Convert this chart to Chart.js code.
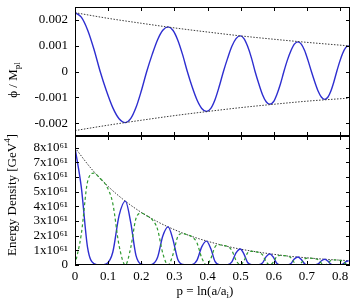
<!DOCTYPE html>
<html><head><meta charset="utf-8">
<script src="https://cdn.jsdelivr.net/npm/chart.js@4.4.0/dist/chart.umd.min.js"></script>
<style>
html,body{margin:0;padding:0;background:#fff;width:351px;height:299px;overflow:hidden}
canvas{position:absolute;left:0}
#c1{top:0;width:351px;height:140px}
#c2{top:130px;width:351px;height:169px}
</style></head><body>
<canvas id="c1" width="351" height="140"></canvas>
<canvas id="c2" width="351" height="169"></canvas>
<script>
// ---------- data ----------
const xTicks = [0,0.1,0.2,0.3,0.4,0.5,0.6,0.7,0.8];
const xTickLabels = ['0','0.1','0.2','0.3','0.4','0.5','0.6','0.7','0.8'];
const phiTicks = [-0.002,-0.001,0,0.001,0.002];
const phiTickLabels = ['-0.002','-0.001','0','0.001','0.002'];
const rhoTicks = [0,1,2,3,4,5,6,7,8];            // in units of 10^61 GeV^4
const rhoTickLabels = ['0','1x10⁶¹','2x10⁶¹','3x10⁶¹','4x10⁶¹','5x10⁶¹','6x10⁶¹','7x10⁶¹','8x10⁶¹'];

// field oscillation phi(p)
const phiP = [0,0.019,0.038,0.057,0.076,0.095,0.114,0.133,0.152,
 0.168,0.184,0.200,0.2165,0.233,0.249,0.265,0.281,
 0.2955,0.310,0.3245,0.339,0.3535,0.368,0.3825,0.397,
 0.410,0.4225,0.435,0.448,0.461,0.4735,0.486,0.499,
 0.510,0.521,0.5325,0.5435,0.555,0.566,0.577,0.588,
 0.599,0.609,0.620,0.6305,0.641,0.652,0.662,0.673,
 0.683,0.693,0.703,0.7135,0.724,0.734,0.744,0.754,
 0.763,0.772,0.781,0.790,0.799,0.808,0.817,0.826];
const phiV = [0.00228,0.002107,0.001612,0.000873,0,-0.000758,-0.001400,-0.001830,-0.00198,
 -0.001830,-0.001400,-0.000758,0,0.000663,0.001223,0.001599,0.00173,
 0.001599,0.001223,0.000663,0,-0.000594,-0.001096,-0.001432,-0.00155,
 -0.001432,-0.001096,-0.000594,0,0.000529,0.000976,0.001275,0.00138,
 0.001275,0.000976,0.000529,0,-0.000486,-0.000898,-0.001173,-0.00127,
 -0.001173,-0.000898,-0.000486,0,0.000440,0.000813,0.001063,0.00115,
 0.001063,0.000813,0.000440,0,-0.000414,-0.000764,-0.000998,-0.00108,
 -0.000998,-0.000764,-0.000414,0,0.000383,0.000707,0.000924,0.00100];

// amplitude envelope of phi
const envP  = [0,0.1,0.2,0.3,0.4,0.5,0.6,0.7,0.83];
const envHi = [0.00228,0.00206,0.00187,0.00169,0.00153,0.00138,0.00125,0.00113,0.00099];
const envLo = [-0.00229,-0.00208,-0.00189,-0.00171,-0.00155,-0.00140,-0.00127,-0.00115,-0.00103];

// energy densities (units of 10^61 GeV^4), sampled at phiP
const potV = [8,5.31,1.18,0.096,0,0.082,0.87,3.37,4.36,
 2.93,0.66,0.054,0,0.047,0.51,1.98,2.60,
 1.75,0.40,0.033,0,0.029,0.32,1.24,1.63,
 1.11,0.25,0.021,0,0.019,0.21,0.82,1.09,
 0.745,0.171,0.014,0,0.013,0.143,0.569,0.762,
 0.522,0.120,0.010,0,0.009,0.101,0.405,0.542,
 0.373,0.086,0.007,0,0.007,0.073,0.292,0.392,
 0.271,0.063,0.005,0,0.005,0.054,0.218,0.294];
const kinV = [0,2.10,5.69,6.27,5.90,5.39,4.20,1.33,0,
 1.16,3.17,3.54,3.36,3.10,2.45,0.79,0,
 0.70,1.92,2.15,2.06,1.92,1.52,0.49,0,
 0.44,1.23,1.38,1.33,1.25,0.99,0.32,0,
 0.295,0.824,0.936,0.910,0.856,0.688,0.226,0,
 0.207,0.580,0.660,0.642,0.607,0.489,0.161,0,
 0.148,0.414,0.474,0.461,0.435,0.352,0.116,0,
 0.107,0.302,0.347,0.339,0.322,0.262,0.087,0];
// total energy density envelope
const rhoP = [0,0.05,0.1,0.15,0.2,0.25,0.3,0.35,0.4,0.45,0.5,0.55,0.6,0.65,0.7,0.75,0.8,0.83];
const rhoV = [8,6.55,5.36,4.39,3.59,2.94,2.41,1.97,1.62,1.32,1.08,0.89,0.73,0.59,0.49,0.40,0.33,0.29];

// ---------- helpers ----------
const FONT = "'Liberation Serif','DejaVu Serif','Times New Roman',serif";
const zip = (xs, ys) => xs.map((x, i) => ({x, y: ys[i]}));
const BLUE = '#2e2ed0', GREEN = '#2f9a2f', ENV = '#3a3a3a';

function drawRich(ctx, parts, x, y, rotate) {
  ctx.save();
  ctx.translate(x, y);
  if (rotate) ctx.rotate(-Math.PI / 2);
  ctx.fillStyle = '#000';
  ctx.textBaseline = 'middle';
  ctx.textAlign = 'left';
  let total = 0;
  parts.forEach(p => { ctx.font = (p.s ? 9 : 13) + 'px ' + FONT; p.w = ctx.measureText(p.t).width; total += p.w; });
  let cx = -total / 2;
  parts.forEach(p => {
    ctx.font = (p.s ? 9 : 13) + 'px ' + FONT;
    const dy = p.s === 'sub' ? 4 : (p.s === 'sup' ? -5 : 0);
    ctx.fillText(p.t, cx, dy);
    cx += p.w;
  });
  ctx.restore();
}

function framePlugin(xT, yT, titles) {
  return {
    id: 'frame',
    afterDatasetsDraw(chart) {
      const {ctx, chartArea: a, scales: {x, y}} = chart;
      ctx.save();
      ctx.strokeStyle = '#000';
      ctx.lineWidth = 1;
      const L = Math.round(a.left), R = Math.round(a.right), T = Math.round(a.top), B = Math.round(a.bottom);
      ctx.strokeRect(L + 0.5, T + 0.5, R - L - 1, B - T - 1);
      ctx.beginPath();
      const tl = 4;
      xT.forEach(v => {
        const px = Math.round(x.getPixelForValue(v)) + 0.5;
        ctx.moveTo(px, B); ctx.lineTo(px, B - tl);
        ctx.moveTo(px, T); ctx.lineTo(px, T + tl);
      });
      yT.forEach(v => {
        const py = Math.round(y.getPixelForValue(v)) + 0.5;
        ctx.moveTo(L, py); ctx.lineTo(L + tl, py);
        ctx.moveTo(R, py); ctx.lineTo(R - tl, py);
      });
      ctx.stroke();
      ctx.restore();
      titles.forEach(t => drawRich(ctx, t.parts, t.x, t.y, t.rot));
    }
  };
}

function setTicks(vals) {
  return s => { s.ticks = vals.map(v => ({value: v})); };
}
function fixY(s) { s.width = 75; s.paddingTop = 0; s.paddingBottom = 0; }
function fixX(s) { s.height = 34; s.paddingLeft = 0; s.paddingRight = 0; }

const tickFont = {family: FONT, size: 13};

// ---------- top chart: phi ----------
new Chart(document.getElementById('c1'), {
  type: 'line',
  data: {datasets: [
    {data: zip(envP, envHi), borderColor: ENV, borderWidth: 1, borderDash: [1.5, 1.5], pointRadius: 0, cubicInterpolationMode: 'monotone'},
    {data: zip(envP, envLo), borderColor: ENV, borderWidth: 1, borderDash: [1.5, 1.5], pointRadius: 0, cubicInterpolationMode: 'monotone'},
    {data: zip(phiP, phiV), borderColor: BLUE, borderWidth: 1.4, pointRadius: 0, cubicInterpolationMode: 'monotone'}
  ]},
  options: {
    responsive: false, animation: false, devicePixelRatio: 1,
    layout: {padding: {top: 7, right: 1, bottom: 4, left: 0}},
    plugins: {legend: {display: false}, tooltip: {enabled: false}},
    scales: {
      x: {type: 'linear', min: 0, max: 0.83, display: false},
      y: {type: 'linear', min: -0.0025, max: 0.0025,
          afterBuildTicks: setTicks(phiTicks),
          afterFit: fixY,
          grid: {display: false, drawTicks: false}, border: {display: false},
          ticks: {font: tickFont, color: '#000', padding: 7, autoSkip: false,
                  callback: (v, i) => phiTickLabels[i]}}
    }
  },
  plugins: [framePlugin(xTicks, phiTicks, [
    {parts: [{t: 'ϕ / M'}, {t: 'pl', s: 'sub'}], x: 14, y: 80, rot: true}
  ])]
});

// ---------- bottom chart: energy density ----------
new Chart(document.getElementById('c2'), {
  type: 'line',
  data: {datasets: [
    {data: zip(phiP, kinV), borderColor: GREEN, borderWidth: 1.2, borderDash: [3, 2.5], pointRadius: 0, cubicInterpolationMode: 'monotone'},
    {data: zip(phiP, potV), borderColor: BLUE, borderWidth: 1.4, pointRadius: 0, cubicInterpolationMode: 'monotone'},
    {data: zip(rhoP, rhoV), borderColor: ENV, borderWidth: 1, borderDash: [1.5, 1.5], pointRadius: 0, cubicInterpolationMode: 'monotone'}
  ]},
  options: {
    responsive: false, animation: false, devicePixelRatio: 1,
    layout: {padding: {top: 6, right: 1, bottom: 0, left: 0}},
    plugins: {legend: {display: false}, tooltip: {enabled: false}},
    scales: {
      x: {type: 'linear', min: 0, max: 0.83,
          afterBuildTicks: setTicks(xTicks),
          afterFit: fixX,
          grid: {display: false, drawTicks: false}, border: {display: false},
          ticks: {font: tickFont, color: '#000', padding: 4, autoSkip: false, maxRotation: 0,
                  callback: (v, i) => xTickLabels[i]}},
      y: {type: 'linear', min: 0, max: 8.8,
          afterBuildTicks: setTicks(rhoTicks),
          afterFit: fixY,
          grid: {display: false, drawTicks: false}, border: {display: false},
          ticks: {font: tickFont, color: '#000', padding: 7, autoSkip: false,
                  callback: (v, i) => rhoTickLabels[i]}}
    }
  },
  plugins: [framePlugin(xTicks, rhoTicks, [
    {parts: [{t: 'Energy Density [GeV'}, {t: '4', s: 'sup'}, {t: ']'}], x: 13, y: 65, rot: true},
    {parts: [{t: 'p = ln(a/a'}, {t: 'i', s: 'sub'}, {t: ')'}], x: 205, y: 162, rot: false}
  ])]
});
</script>
</body></html>
